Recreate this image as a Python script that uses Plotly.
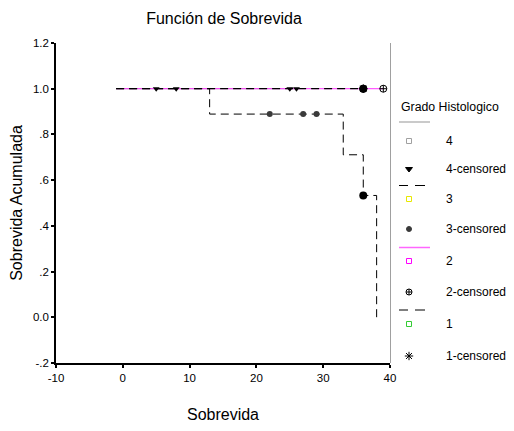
import plotly.graph_objects as go

# ---- data ----
g4_t = [-1, 26]
g4_s = [1.0, 1.0]
g4_cens_t = [5, 8, 25, 26]
g4_cens_s = [1.0, 1.0, 1.0, 1.0]

g3_t = [-1, 13, 33, 36, 38]
g3_s = [1.0, 0.889, 0.711, 0.533, 0.0]
g3_cens_t = [22, 27, 29, 36]
g3_cens_s = [0.889, 0.889, 0.889, 0.533]

g2_t = [-1, 39]
g2_s = [1.0, 1.0]
g2_cens_t = [36, 39]
g2_cens_s = [1.0, 1.0]

g1_t = [-1, 36]
g1_s = [1.0, 1.0]
g1_cens_t = [36]
g1_cens_s = [1.0]

tied_t = [36, 36]
tied_s = [1.0, 0.533]

y_tickvals = [-0.2, 0.0, 0.2, 0.4, 0.6, 0.8, 1.0, 1.2]
y_ticktext = ["-.2", "0.0", ".2", ".4", ".6", ".8", "1.0", "1.2"]
x_tickvals = [-10, 0, 10, 20, 30, 40]
x_ticktext = ["-10", "0", "10", "20", "30", "40"]

legend_labels = ["4", "4-censored", "3", "3-censored", "2", "2-censored", "1", "1-censored"]

FONT = "Liberation Sans, Arial, sans-serif"
OFF = 8  # page body margin offset
W, H = 514 - 2 * OFF, 431 - 2 * OFF
L, R, T, B = 56 - OFF, 390 - OFF, 43 - OFF, 363 - OFF
dom_x = (R - L) / (W - L)

fig = go.Figure()

dash = "8px,5px"
fig.add_trace(go.Scatter(x=g4_t, y=g4_s, mode="lines", line=dict(color="#b0b0b0", width=1, shape="hv")))
fig.add_trace(go.Scatter(x=g2_t, y=g2_s, mode="lines", line=dict(color="#ff33ff", width=1, shape="hv")))
fig.add_trace(go.Scatter(x=g3_t, y=g3_s, mode="lines", line=dict(color="black", width=1, shape="hv", dash=dash)))
fig.add_trace(go.Scatter(x=g1_t, y=g1_s, mode="lines", line=dict(color="black", width=1.2, shape="hv", dash=dash)))

fig.add_trace(go.Scatter(x=g4_cens_t, y=g4_cens_s, mode="markers",
                         marker=dict(symbol="triangle-down", size=6, color="black")))
fig.add_trace(go.Scatter(x=g3_cens_t, y=g3_cens_s, mode="markers",
                         marker=dict(symbol="circle", size=6, color="#3a3a3a")))
fig.add_trace(go.Scatter(x=g2_cens_t, y=g2_cens_s, mode="markers",
                         marker=dict(symbol="circle-cross-open", size=7, color="black", line=dict(width=1))))
fig.add_trace(go.Scatter(x=g1_cens_t, y=g1_cens_s, mode="markers",
                         marker=dict(symbol="asterisk-open", size=7, color="black", line=dict(width=1))))
fig.add_trace(go.Scatter(x=tied_t, y=tied_s, mode="markers",
                         marker=dict(symbol="circle", size=8, color="black")))

# ---- custom legend (pixel coordinates on overlay axes) ----
leg_x_marker = 409 - OFF
leg_x_text = 444 - OFF
leg_y = [y - OFF for y in [141, 169, 199, 229, 261, 292, 324, 356]]
symbols = ["square-open", "triangle-down", "square-open", "circle",
           "square-open", "circle-cross-open", "square-open", "asterisk-open"]
colors = ["#a0a0a0", "black", "#e8e800", "#3a3a3a", "#ff00ff", "black", "#33cc33", "black"]
sizes = [5, 6, 5, 5, 5, 6, 5, 7]
for lab, yy, sym, col, sz in zip(legend_labels, leg_y, symbols, colors, sizes):
    fig.add_trace(go.Scatter(x=[leg_x_marker], y=[yy], mode="markers", xaxis="x2", yaxis="y2",
                             marker=dict(symbol=sym, size=sz, color=col, line=dict(width=1, color=col)),
                             cliponaxis=False))
    fig.add_annotation(x=leg_x_text, y=yy, xref="x2", yref="y2", text=lab, showarrow=False,
                       xanchor="left", yanchor="middle", font=dict(size=12, color="black", family=FONT))

fig.add_annotation(x=399 - OFF, y=107 - OFF, xref="x2", yref="y2", text="Grado Histologico", showarrow=False,
                   xanchor="left", yanchor="middle", font=dict(size=12.3, color="black", family=FONT))

def hl(x0, x1, y, color, width):
    return dict(type="line", xref="x2", yref="y2", x0=x0 - OFF, x1=x1 - OFF, y0=y - OFF, y1=y - OFF,
                line=dict(color=color, width=width))

shapes = [
    hl(399, 430, 122, "#b8b8b8", 1.5),
    hl(399, 408, 185.5, "black", 1),
    hl(415, 425, 185.5, "black", 1),
    hl(399, 430, 247.5, "#ff66ff", 1.5),
    hl(399, 408, 310, "black", 1),
    hl(415, 425, 310, "black", 1),
    # right frame line
    dict(type="line", xref="x2", yref="y2", x0=R, x1=R, y0=T, y1=B, line=dict(color="#808080", width=1.5)),
]

fig.update_layout(
    width=W, height=H,
    margin=dict(l=L, r=0, t=T, b=H - B, pad=0, autoexpand=False),
    plot_bgcolor="white", paper_bgcolor="white",
    showlegend=False,
    font=dict(family=FONT, size=11.5, color="black"),
    title=dict(text="Función de Sobrevida", x=(224 - OFF) / W, xanchor="center",
               y=1 - (18 - OFF) / H, yanchor="middle", font=dict(size=16, family=FONT, color="black")),
    xaxis=dict(domain=[0, dom_x], range=[-10, 40], tickvals=x_tickvals, ticktext=x_ticktext,
               showgrid=False, zeroline=False,
               showline=True, linecolor="black", linewidth=1.5, ticks="outside", ticklen=3, tickwidth=1.5,
               tickcolor="black", tickfont=dict(size=11.5), automargin=False,
               title=dict(text="Sobrevida", font=dict(size=16), standoff=34)),
    yaxis=dict(range=[-0.2, 1.2], tickvals=y_tickvals, ticktext=y_ticktext, showgrid=False, zeroline=False,
               showline=True, linecolor="black", linewidth=1.5, ticks="outside", ticklen=3, tickwidth=1.5,
               tickcolor="black", tickfont=dict(size=11.5), automargin=False,
               title=dict(text="Sobrevida Acumulada", font=dict(size=16), standoff=7)),
    xaxis2=dict(domain=[dom_x, 1], range=[R, W], visible=False, anchor="y2"),
    yaxis2=dict(domain=[0, 1], range=[B, T], visible=False, anchor="x2"),
    shapes=shapes,
)

fig.write_html("out.html")
